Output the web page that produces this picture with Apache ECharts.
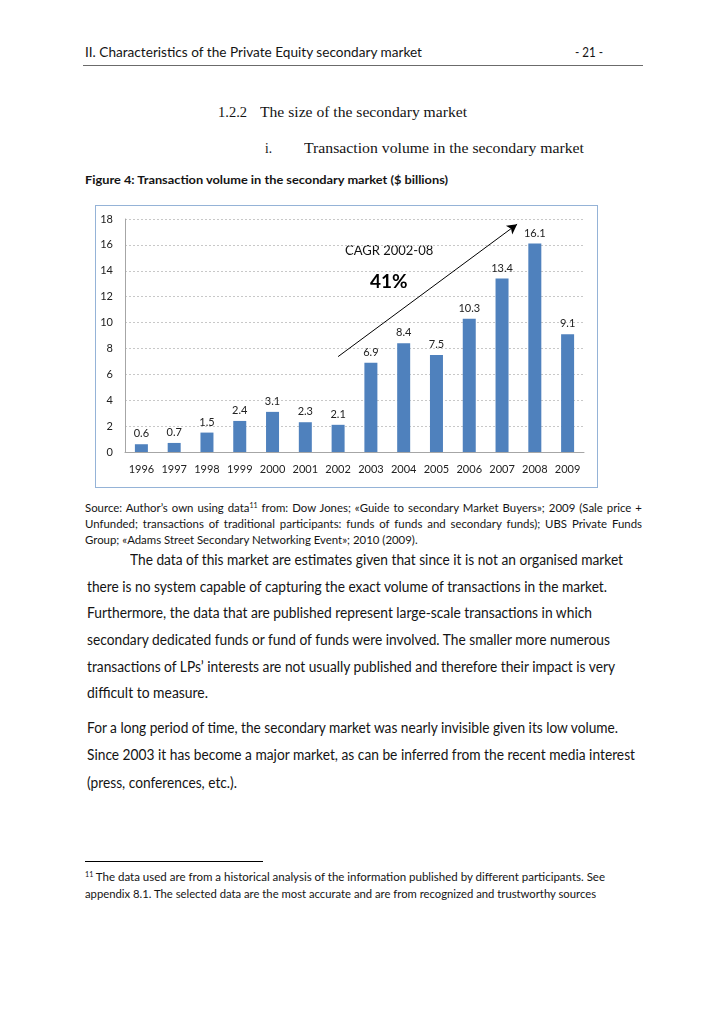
<!DOCTYPE html>
<html><head><meta charset="utf-8">
<script src="https://cdn.jsdelivr.net/npm/echarts@6/dist/echarts.min.js"></script>
<style>
html,body{margin:0;padding:0;background:#fff;}
body{width:728px;height:1031px;position:relative;overflow:hidden;font-family:Lato,"Open Sans",sans-serif;color:#141414;}
.t{position:absolute;white-space:nowrap;transform-origin:0 50%;}
.serif{font-family:"Liberation Serif","DejaVu Serif",serif;}
.rule{position:absolute;height:0;}
sup{font-size:0.62em;line-height:0;vertical-align:0.55em;}
.just{text-align:justify;text-align-last:justify;white-space:normal;}
#box{position:absolute;left:95px;top:205px;width:503px;height:283px;box-sizing:border-box;border:1px solid #95b3d7;}
#chart{position:absolute;left:0;top:0;width:501px;height:281px;}
</style></head>
<body>
<div class="t" style="left:85px;top:44px;font-size:14px;line-height:16px" data-w="337">II. Characteristics of the Private Equity secondary market</div>
<div class="t" style="left:575px;top:44px;font-size:14px;line-height:16px" data-w="28">- 21 -</div>
<div class="rule" style="left:83px;top:65px;width:560px;border-top:1px solid #6b6b6b"></div>

<div class="t serif" style="left:218px;top:103px;font-size:15.5px;line-height:18px" data-w="29">1.2.2</div>
<div class="t serif" style="left:260px;top:103px;font-size:15.5px;line-height:18px" data-w="207">The size of the secondary market</div>
<div class="t serif" style="left:265px;top:139px;font-size:15.5px;line-height:18px" data-w="7">i.</div>
<div class="t serif" style="left:304px;top:139px;font-size:15.5px;line-height:18px" data-w="280">Transaction volume in the secondary market</div>

<div class="t" style="left:85px;top:173px;font-size:12px;line-height:14px;font-weight:bold" data-w="363">Figure 4: Transaction volume in the secondary market ($ billions)</div>

<div id="box"><div id="chart"></div></div>

<div class="t src just" style="left:85px;top:500px;font-size:11.5px;line-height:15px"><span id="src1">Source: Author’s own using data<sup>11</sup> from: Dow Jones; «Guide to secondary Market Buyers»; 2009 (Sale price +</span></div>
<div class="t src just" style="left:85px;top:516px;font-size:11.5px;line-height:15px">Unfunded; transactions of traditional participants: funds of funds and secondary funds); UBS Private Funds</div>
<div class="t" id="src3" style="left:85px;top:532px;font-size:11.5px;line-height:15px">Group; «Adams Street Secondary Networking Event»; 2010 (2009).</div>

<div class="t" style="left:130px;top:551px;font-size:14.5px;line-height:18px" data-w="493">The data of this market are estimates given that since it is not an organised market</div>
<div class="t" style="left:87px;top:578px;font-size:14.5px;line-height:18px" data-w="520">there is no system capable of capturing the exact volume of transactions in the market.</div>
<div class="t" style="left:87px;top:604px;font-size:14.5px;line-height:18px" data-w="505">Furthermore, the data that are published represent large-scale transactions in which</div>
<div class="t" style="left:87px;top:631px;font-size:14.5px;line-height:18px" data-w="523">secondary dedicated funds or fund of funds were involved. The smaller more numerous</div>
<div class="t" style="left:87px;top:658px;font-size:14.5px;line-height:18px" data-w="528">transactions of LPs’ interests are not usually published and therefore their impact is very</div>
<div class="t" style="left:87px;top:684px;font-size:14.5px;line-height:18px" data-w="121">difficult to measure.</div>

<div class="t" style="left:87px;top:719px;font-size:14.5px;line-height:18px" data-w="531">For a long period of time, the secondary market was nearly invisible given its low volume.</div>
<div class="t" style="left:87px;top:746px;font-size:14.5px;line-height:18px" data-w="548">Since 2003 it has become a major market, as can be inferred from the recent media interest</div>
<div class="t" style="left:87px;top:774px;font-size:14.5px;line-height:18px" data-w="150">(press, conferences, etc.).</div>

<div class="rule" style="left:85px;top:861px;width:178px;border-top:1px solid #000"></div>
<div class="t" style="left:85px;top:869px;font-size:11px;line-height:15px" data-w="520"><sup>11</sup> The data used are from a historical analysis of the information published by different participants. See</div>
<div class="t" style="left:85px;top:886px;font-size:11px;line-height:15px" data-w="511">appendix 8.1. The selected data are the most accurate and are from recognized and trustworthy sources</div>

<script>
// ---- data ----
var years = ['1996','1997','1998','1999','2000','2001','2002','2003','2004','2005','2006','2007','2008','2009'];
var volume = [0.6, 0.7, 1.5, 2.4, 3.1, 2.3, 2.1, 6.9, 8.4, 7.5, 10.3, 13.4, 16.1, 9.1];
var yTicks = [0, 2, 4, 6, 8, 10, 12, 14, 16, 18];
var cagrTitle = 'CAGR 2002-08';
var cagrValue = '41%';
// arrow annotation in (category position, value) space
var arrowStart = [6.0, 7.37];
var arrowEnd = [11.46, 17.6];

// fit text lines to measured widths
document.querySelectorAll('[data-w]').forEach(function(el){
  var w = el.getBoundingClientRect().width;
  var target = parseFloat(el.getAttribute('data-w'));
  if (w > 0) el.style.transform = 'scaleX(' + (target / w).toFixed(4) + ')';
});
// source note: compress all three lines equally so line 1 nearly fills the column
(function(){
  var s1 = document.getElementById('src1');
  var clone = s1.cloneNode(true);
  clone.style.position = 'absolute'; clone.style.whiteSpace = 'nowrap'; clone.style.visibility = 'hidden';
  clone.style.fontSize = '11.5px';
  document.body.appendChild(clone);
  var nat = clone.getBoundingClientRect().width;
  document.body.removeChild(clone);
  var ratio = Math.min(1, 540 / nat);
  document.getElementById('src3').style.transform = 'scaleX(' + ratio.toFixed(4) + ')';
  document.querySelectorAll('.src').forEach(function(el){
    el.style.width = (557 / ratio) + 'px';
    el.style.transform = 'scaleX(' + ratio.toFixed(4) + ')';
  });
})();

var chart = echarts.init(document.getElementById('chart'));
var font = 'Lato, "Open Sans", sans-serif';
chart.setOption({
  animation: false,
  textStyle: { fontFamily: font },
  grid: { left: 29, right: 13, top: 13, bottom: 35, containLabel: false },
  xAxis: [{
    type: 'category',
    data: years,
    axisLine: { lineStyle: { color: '#a6a6a6' } },
    axisTick: { show: false },
    axisLabel: { color: '#222', fontSize: 11, margin: 12, fontFamily: font, interval: 0 }
  }, {
    type: 'value', show: false,
    min: -0.5, max: years.length - 0.5
  }],
  yAxis: {
    type: 'value',
    min: yTicks[0], max: yTicks[yTicks.length - 1], interval: 2,
    axisLine: { show: true, onZero: false, lineStyle: { color: '#a6a6a6' } },
    axisTick: { show: false },
    axisLabel: { color: '#222', fontSize: 11, margin: 12, fontFamily: font },
    splitLine: { lineStyle: { color: '#c8c8c8', type: [2, 2] } }
  },
  series: [{
    type: 'bar',
    data: volume,
    barWidth: 13,
    itemStyle: { color: '#4f81bd' },
    label: { show: true, position: 'top', distance: 5, color: '#222', fontSize: 11, fontFamily: font }
  }, {
    type: 'line',
    xAxisIndex: 1,
    data: [],
    silent: true,
    markLine: {
      silent: true,
      animation: false,
      symbol: ['none', 'arrow'],
      symbolSize: [8, 10],
      label: { show: false },
      lineStyle: { color: '#000', width: 1, type: 'solid' },
      data: [[{ coord: arrowStart }, { coord: arrowEnd }]]
    }
  }],
  graphic: [
    { type: 'text', left: 249, top: 38, style: { text: cagrTitle, font: '13px ' + font, fill: '#111' } },
    { type: 'text', left: 274, top: 66, style: { text: cagrValue, font: 'bold 19px ' + font, fill: '#000' } }
  ]
});
</script>
</body></html>
